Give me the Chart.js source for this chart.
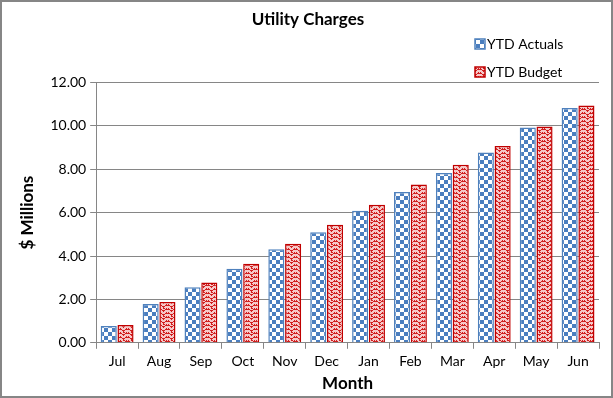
<!DOCTYPE html>
<html>
<head>
<meta charset="utf-8">
<script src="https://cdn.jsdelivr.net/npm/chart.js@4"></script>
<style>
  html, body { margin: 0; padding: 0; background: #fff; }
  #wrap { width: 613px; height: 398px; }
</style>
</head>
<body>
<div id="wrap"><canvas id="myChart" width="613" height="398"></canvas></div>
<script>
const months = ['Jul', 'Aug', 'Sep', 'Oct', 'Nov', 'Dec', 'Jan', 'Feb', 'Mar', 'Apr', 'May', 'Jun']
const ytdActuals = [0.77, 1.79, 2.56, 3.41, 4.31, 5.09, 6.08, 6.95, 7.83, 8.77, 9.92, 10.82]
const ytdBudget = [0.82, 1.88, 2.78, 3.64, 4.56, 5.44, 6.36, 7.30, 8.21, 9.07, 9.97, 10.93]
const seriesNames = ['YTD Actuals', 'YTD Budget']

const FONT = 'Lato, "Open Sans", sans-serif'

// blue checkerboard fill
function checkerPattern() {
    const c = document.createElement('canvas')
    c.width = 8; c.height = 8
    const g = c.getContext('2d')
    g.fillStyle = '#ffffff'
    g.fillRect(0, 0, 8, 8)
    g.fillStyle = '#4a7ebf'
    g.fillRect(0, 0, 4, 4)
    g.fillRect(4, 4, 4, 4)
    return g.createPattern(c, 'repeat')
}

// red zigzag fill
function zigzagPattern() {
    const c = document.createElement('canvas')
    c.width = 8; c.height = 8
    const g = c.getContext('2d')
    g.fillStyle = '#f6c8c8'
    g.fillRect(0, 0, 8, 8)
    g.fillStyle = '#d11f1f'
    const px = [[0,0],[1,1],[2,2],[3,3],[4,2],[5,1],[6,0],[7,1],
                [0,1],[6,1],[3,2],
                [0,4],[1,5],[2,6],[3,7],[4,6],[5,5],[6,4],[7,5],
                [0,5],[6,5],[3,6],[3,4],[4,4]]
    px.forEach(p => g.fillRect(p[0], p[1], 1, 1))
    return g.createPattern(c, 'repeat')
}

const blueFill = checkerPattern()
const redFill = zigzagPattern()

const frameAndLegend = {
    id: 'frameAndLegend',
    afterDraw(chart) {
        const ctx = chart.ctx
        ctx.save()
        // outer border
        ctx.strokeStyle = '#868686'
        ctx.lineWidth = 2
        ctx.strokeRect(1, 1, chart.width - 2, chart.height - 2)
        // legend
        const items = [
            { label: seriesNames[0], fill: blueFill, border: '#4f81bd', y: 44 },
            { label: seriesNames[1], fill: redFill, border: '#c00000', y: 72 }
        ]
        ctx.font = '14px ' + FONT
        ctx.textBaseline = 'middle'
        items.forEach(it => {
            ctx.fillStyle = it.fill
            ctx.fillRect(475, it.y - 5, 10, 10)
            ctx.strokeStyle = it.border
            ctx.lineWidth = 1.5
            ctx.strokeRect(475, it.y - 5, 10, 10)
            ctx.fillStyle = '#000'
            ctx.fillText(it.label, 487, it.y)
        })
        ctx.restore()
    }
}

const ctx = document.getElementById('myChart').getContext('2d')
const myChart = new Chart(ctx, {
    type: 'bar',
    data: {
        labels: months,
        datasets: [{
            label: seriesNames[0],
            data: ytdActuals,
            backgroundColor: blueFill,
            borderColor: '#4f81bd',
            borderWidth: 1.5
        }, {
            label: seriesNames[1],
            data: ytdBudget,
            backgroundColor: redFill,
            borderColor: '#c00000',
            borderWidth: 1.5
        }]
    },
    options: {
        responsive: false,
        animation: false,
        layout: {
            padding: { top: 2, right: 14, bottom: 4, left: 17 }
        },
        plugins: {
            legend: { display: false },
            tooltip: { enabled: false },
            title: {
                display: true,
                text: 'Utility Charges',
                color: '#000',
                font: { family: FONT, size: 17, weight: 'bold' },
                padding: { top: 7, bottom: 53 }
            }
        },
        datasets: {
            bar: {
                categoryPercentage: 0.8,
                barPercentage: 0.96
            }
        },
        scales: {
            x: {
                grid: {
                    display: true,
                    drawOnChartArea: false,
                    drawTicks: true,
                    tickLength: 6,
                    color: '#868686',
                    offset: true
                },
                border: { color: '#868686', width: 1 },
                ticks: {
                    color: '#000',
                    font: { family: FONT, size: 14 },
                    padding: 4
                },
                title: {
                    display: true,
                    text: 'Month',
                    color: '#000',
                    font: { family: FONT, size: 17, weight: 'bold' },
                    padding: { top: 0, bottom: 0 }
                }
            },
            y: {
                min: 0,
                max: 12,
                grid: {
                    color: '#868686',
                    lineWidth: 1,
                    tickLength: 6
                },
                border: { color: '#868686', width: 1 },
                ticks: {
                    stepSize: 2,
                    color: '#000',
                    font: { family: FONT, size: 14 },
                    padding: 4,
                    callback: v => v.toFixed(2)
                },
                title: {
                    display: true,
                    text: '$ Millions',
                    color: '#000',
                    font: { family: FONT, size: 17, weight: 'bold' },
                    padding: { top: 0, bottom: 9 }
                }
            }
        }
    },
    plugins: [frameAndLegend]
})
</script>
</body>
</html>
